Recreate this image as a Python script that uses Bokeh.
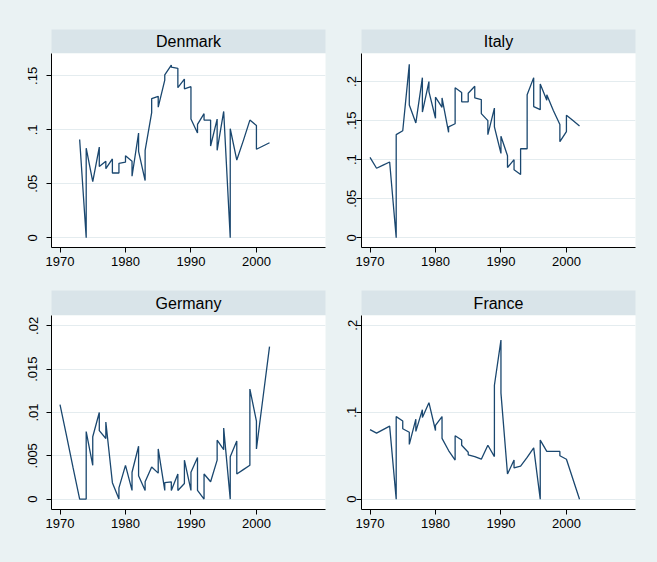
from bokeh.plotting import figure
from bokeh.layouts import row, column
from bokeh.models import FixedTicker, Range1d
from bokeh.core.properties import value
from bokeh.embed import file_html
from bokeh.resources import INLINE

# ---------------- data ----------------
dk_year = [1973, 1974, 1974, 1975, 1976, 1976, 1977, 1977, 1978, 1978, 1979, 1979,
           1980, 1980, 1981, 1981, 1982, 1982, 1983, 1983, 1984, 1984, 1985, 1985,
           1986, 1986, 1987, 1987, 1988, 1988, 1989, 1989, 1990, 1990, 1991, 1991,
           1992, 1992, 1993, 1993, 1994, 1994, 1995, 1996, 1996, 1997, 1998, 1999,
           2000, 2000, 2001, 2002]
dk_val = [0.091, 0.0, 0.083, 0.052, 0.084, 0.066, 0.071, 0.064, 0.073, 0.060, 0.060, 0.069,
          0.070, 0.076, 0.071, 0.057, 0.097, 0.080, 0.053, 0.081, 0.116, 0.129, 0.131, 0.121,
          0.146, 0.151, 0.160, 0.158, 0.157, 0.139, 0.147, 0.138, 0.140, 0.110, 0.097, 0.105,
          0.115, 0.109, 0.109, 0.085, 0.110, 0.081, 0.117, 0.0, 0.101, 0.072, 0.090, 0.109,
          0.104, 0.082, 0.085, 0.088]

it_year = [1970, 1971, 1972, 1973, 1974, 1974, 1975, 1976, 1976, 1977, 1978, 1978,
           1979, 1979, 1980, 1980, 1981, 1981, 1982, 1982, 1983, 1983, 1984, 1984,
           1985, 1985, 1986, 1986, 1987, 1987, 1988, 1988, 1989, 1989, 1990, 1990,
           1991, 1991, 1992, 1992, 1993, 1993, 1994, 1994, 1995, 1995, 1996, 1996,
           1997, 1997, 1998, 1999, 1999, 2000, 2000, 2001, 2002]
it_val = [0.103, 0.089, 0.093, 0.097, 0.0, 0.132, 0.137, 0.222, 0.170, 0.147, 0.205, 0.161,
          0.200, 0.187, 0.153, 0.180, 0.167, 0.179, 0.135, 0.142, 0.146, 0.192, 0.186, 0.174,
          0.174, 0.185, 0.194, 0.179, 0.177, 0.159, 0.150, 0.132, 0.166, 0.142, 0.108, 0.130,
          0.105, 0.090, 0.100, 0.087, 0.081, 0.114, 0.114, 0.183, 0.205, 0.168, 0.164, 0.197,
          0.176, 0.183, 0.163, 0.145, 0.123, 0.136, 0.157, 0.150, 0.143]

de_year = [1970, 1971, 1972, 1973, 1974, 1974, 1975, 1975, 1976, 1976, 1977, 1977,
           1978, 1979, 1979, 1980, 1981, 1981, 1982, 1982, 1983, 1983, 1984, 1985,
           1985, 1986, 1986, 1987, 1987, 1988, 1988, 1989, 1989, 1990, 1990, 1991,
           1991, 1992, 1992, 1993, 1994, 1994, 1995, 1995, 1996, 1996, 1997, 1997,
           1998, 1999, 1999, 2000, 2000, 2001, 2002]
de_val = [0.0109, 0.0073, 0.0036, 0.0, 0.0, 0.0078, 0.0039, 0.0072, 0.0100, 0.0079, 0.0070, 0.0089,
          0.0019, 0.0, 0.0013, 0.0039, 0.0010, 0.0031, 0.0061, 0.0027, 0.0010, 0.0020, 0.0037, 0.0030,
          0.0058, 0.0010, 0.0019, 0.0020, 0.0010, 0.0029, 0.0010, 0.0018, 0.0045, 0.0010, 0.0031, 0.0048,
          0.0010, 0.0, 0.0029, 0.0020, 0.0045, 0.0068, 0.0057, 0.0082, 0.0, 0.0049, 0.0067, 0.0029,
          0.0034, 0.0039, 0.0127, 0.0090, 0.0058, 0.0117, 0.0176]

fr_year = [1970, 1971, 1972, 1973, 1974, 1974, 1975, 1975, 1976, 1976, 1977, 1977,
           1978, 1978, 1979, 1980, 1980, 1981, 1981, 1982, 1983, 1983, 1984, 1984,
           1985, 1985, 1986, 1987, 1988, 1989, 1989, 1990, 1990, 1991, 1992, 1992,
           1993, 1994, 1995, 1996, 1996, 1997, 1998, 1999, 1999, 2000, 2001, 2002]
fr_val = [0.080, 0.076, 0.080, 0.084, 0.0, 0.095, 0.090, 0.081, 0.077, 0.063, 0.092, 0.078,
          0.103, 0.094, 0.111, 0.079, 0.085, 0.095, 0.070, 0.056, 0.045, 0.073, 0.068, 0.062,
          0.054, 0.051, 0.049, 0.046, 0.062, 0.049, 0.131, 0.183, 0.122, 0.029, 0.045, 0.036,
          0.038, 0.048, 0.059, 0.0, 0.068, 0.055, 0.055, 0.055, 0.050, 0.046, 0.023, 0.0]

x_ticks = [1970, 1980, 1990, 2000]
x_labels = ["1970", "1980", "1990", "2000"]
dk_ticks = [0, 0.05, 0.1, 0.15]
dk_labels = ["0", ".05", ".1", ".15"]
it_ticks = [0, 0.05, 0.1, 0.15, 0.2]
it_labels = ["0", ".05", ".1", ".15", ".2"]
de_ticks = [0, 0.005, 0.01, 0.015, 0.02]
de_labels = ["0", ".005", ".01", ".015", ".02"]
fr_ticks = [0, 0.1, 0.2]
fr_labels = ["0", ".1", ".2"]

# ---------------- style ----------------
OUTER = "#eaf2f3"
HEAD = "#d9e4e9"
LINE = "#1a476f"
GRID = "#e4ecef"
FONT = "Liberation Sans"
TICK_FS = "13px"


def header(title, w, h, left, right, top):
    p = figure(width=w, height=h, x_range=Range1d(0, 1), y_range=Range1d(0, 1),
               x_axis_type=None, y_axis_type=None, toolbar_location=None,
               output_backend="svg", min_border_left=left, min_border_right=right,
               min_border_top=top, min_border_bottom=0)
    p.background_fill_color = HEAD
    p.border_fill_color = OUTER
    p.outline_line_color = None
    p.text(x=[0.5], y=[0.5], text=[title], text_align="center", text_baseline="middle",
           text_font=value(FONT), text_font_size="16px", text_color="#000000")
    return p


def panel(years, vals, yticks, ylabels, yr, w, h, left, right, bottom, ystand):
    p = figure(width=w, height=h, x_range=Range1d(1968.7, 2010.55), y_range=Range1d(*yr),
               toolbar_location=None, output_backend="svg",
               min_border_left=left, min_border_right=right,
               min_border_top=0, min_border_bottom=bottom)
    p.background_fill_color = "#ffffff"
    p.border_fill_color = OUTER
    p.outline_line_color = None
    p.line(years, vals, line_color=LINE, line_width=1.3)

    p.xaxis.ticker = FixedTicker(ticks=x_ticks)
    p.xaxis.major_label_overrides = dict(zip(x_ticks, x_labels))
    p.yaxis.ticker = FixedTicker(ticks=yticks)
    p.yaxis.major_label_overrides = dict(zip(yticks, ylabels))
    p.yaxis.major_label_orientation = "vertical"
    p.xaxis.major_label_standoff = 4
    p.yaxis.major_label_standoff = ystand
    for ax in (p.xaxis, p.yaxis):
        ax.axis_line_color = "#000000"
        ax.axis_line_width = 1
        ax.major_tick_line_color = "#000000"
        ax.major_tick_out = 5
        ax.major_tick_in = 0
        ax.minor_tick_line_color = None
        ax.major_label_text_font = FONT
        ax.major_label_text_font_size = TICK_FS
        ax.major_label_text_color = "#000000"
    p.xgrid.visible = False
    p.ygrid.grid_line_color = GRID
    p.ygrid.grid_line_width = 1
    return p


W1, W2 = 338, 319
L1, R1 = 51, 13
L2, R2 = 23, 22

h_dk = header("Denmark", W1, 53, L1, R1, 29)
h_it = header("Italy", W2, 53, L2, R2, 29)
p_dk = panel(dk_year, dk_val, dk_ticks, dk_labels, (-0.009, 0.1707), W1, 224, L1, R1, 30, 9)
p_it = panel(it_year, it_val, it_ticks, it_labels, (-0.0124, 0.2359), W2, 224, L2, R2, 30, 0)

h_de = header("Germany", W1, 38, L1, R1, 13)
h_fr = header("France", W2, 38, L2, R2, 13)
p_de = panel(de_year, de_val, de_ticks, de_labels, (-0.0012, 0.0212), W1, 247, L1, R1, 53, 9)
p_fr = panel(fr_year, fr_val, fr_ticks, fr_labels, (-0.0118, 0.2112), W2, 247, L2, R2, 53, 0)

bg = {"background-color": OUTER}
layout = row(column(h_dk, p_dk, h_de, p_de, styles=bg),
             column(h_it, p_it, h_fr, p_fr, styles=bg), styles=bg)

open("out.html", "w").write(file_html(layout, INLINE))
